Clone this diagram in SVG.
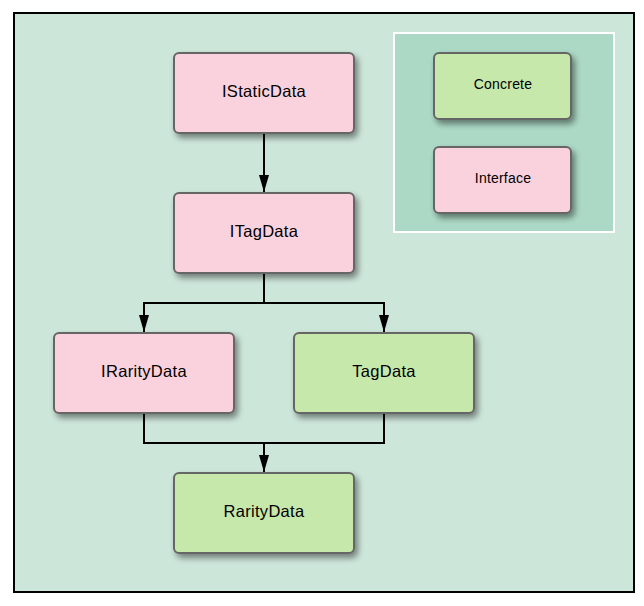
<svg xmlns="http://www.w3.org/2000/svg" width="644" height="606" viewBox="0 0 644 606">
<style>
.node rect{stroke:#666;stroke-width:2}
.iface{fill:#f9d2dd}
.conc{fill:#c7e8ab}
text{font-family:"Liberation Sans",Arial,sans-serif;fill:#000;text-anchor:middle;dominant-baseline:central}
.big{font-size:16.5px;letter-spacing:0.3px}
.small{font-size:14px;letter-spacing:0.2px}
.conn{fill:none;stroke:#000;stroke-width:2}
</style>
<defs>
<filter id="sh" x="-20%" y="-20%" width="150%" height="160%">
<feGaussianBlur in="SourceAlpha" stdDeviation="3"/>
<feOffset dx="3" dy="4" result="b"/>
<feComponentTransfer><feFuncA type="linear" slope="0.45"/></feComponentTransfer>
<feMerge><feMergeNode/><feMergeNode in="SourceGraphic"/></feMerge>
</filter>
<marker id="arr" markerWidth="17" markerHeight="10" refX="17" refY="5" orient="auto" markerUnits="userSpaceOnUse" viewBox="0 0 17 10">
<path d="M0,0 L17,5 L0,10 Z" fill="#000"/>
</marker>
</defs>
<rect x="0" y="0" width="644" height="606" fill="#fff"/>
<rect x="14" y="13" width="620" height="579" fill="#cde6da" stroke="#000" stroke-width="2"/>
<g id="legend">
<rect x="394" y="33" width="220" height="199" fill="#acd9c5" stroke="#fff" stroke-width="2"/>
</g>
<g id="connectors">
<path class="conn" d="M264,133 V192" marker-end="url(#arr)"/>
<path class="conn" d="M264,273 V303 H144 V332" marker-end="url(#arr)"/>
<path class="conn" d="M264,303 H384 V332" marker-end="url(#arr)"/>
<path class="conn" d="M144,413 V443 H384 V413"/>
<path class="conn" d="M264,443 V472" marker-end="url(#arr)"/>
</g>
<g id="IStaticData" class="node"><rect class="iface" x="174" y="53" width="180" height="80" rx="5" filter="url(#sh)"/><text class="big" x="264" y="91">IStaticData</text></g>
<g id="ITagData" class="node"><rect class="iface" x="174" y="193" width="180" height="80" rx="5" filter="url(#sh)"/><text class="big" x="264" y="231">ITagData</text></g>
<g id="IRarityData" class="node"><rect class="iface" x="54" y="333" width="180" height="80" rx="5" filter="url(#sh)"/><text class="big" x="144" y="371">IRarityData</text></g>
<g id="TagData" class="node"><rect class="conc" x="294" y="333" width="180" height="80" rx="5" filter="url(#sh)"/><text class="big" x="384" y="371">TagData</text></g>
<g id="RarityData" class="node"><rect class="conc" x="174" y="473" width="180" height="80" rx="5" filter="url(#sh)"/><text class="big" x="264" y="511">RarityData</text></g>
<g id="Concrete" class="node"><rect class="conc" x="434" y="53" width="137" height="66" rx="5" filter="url(#sh)"/><text class="small" x="503" y="84">Concrete</text></g>
<g id="Interface" class="node"><rect class="iface" x="434" y="147" width="137" height="66" rx="5" filter="url(#sh)"/><text class="small" x="503" y="178">Interface</text></g>
</svg>
